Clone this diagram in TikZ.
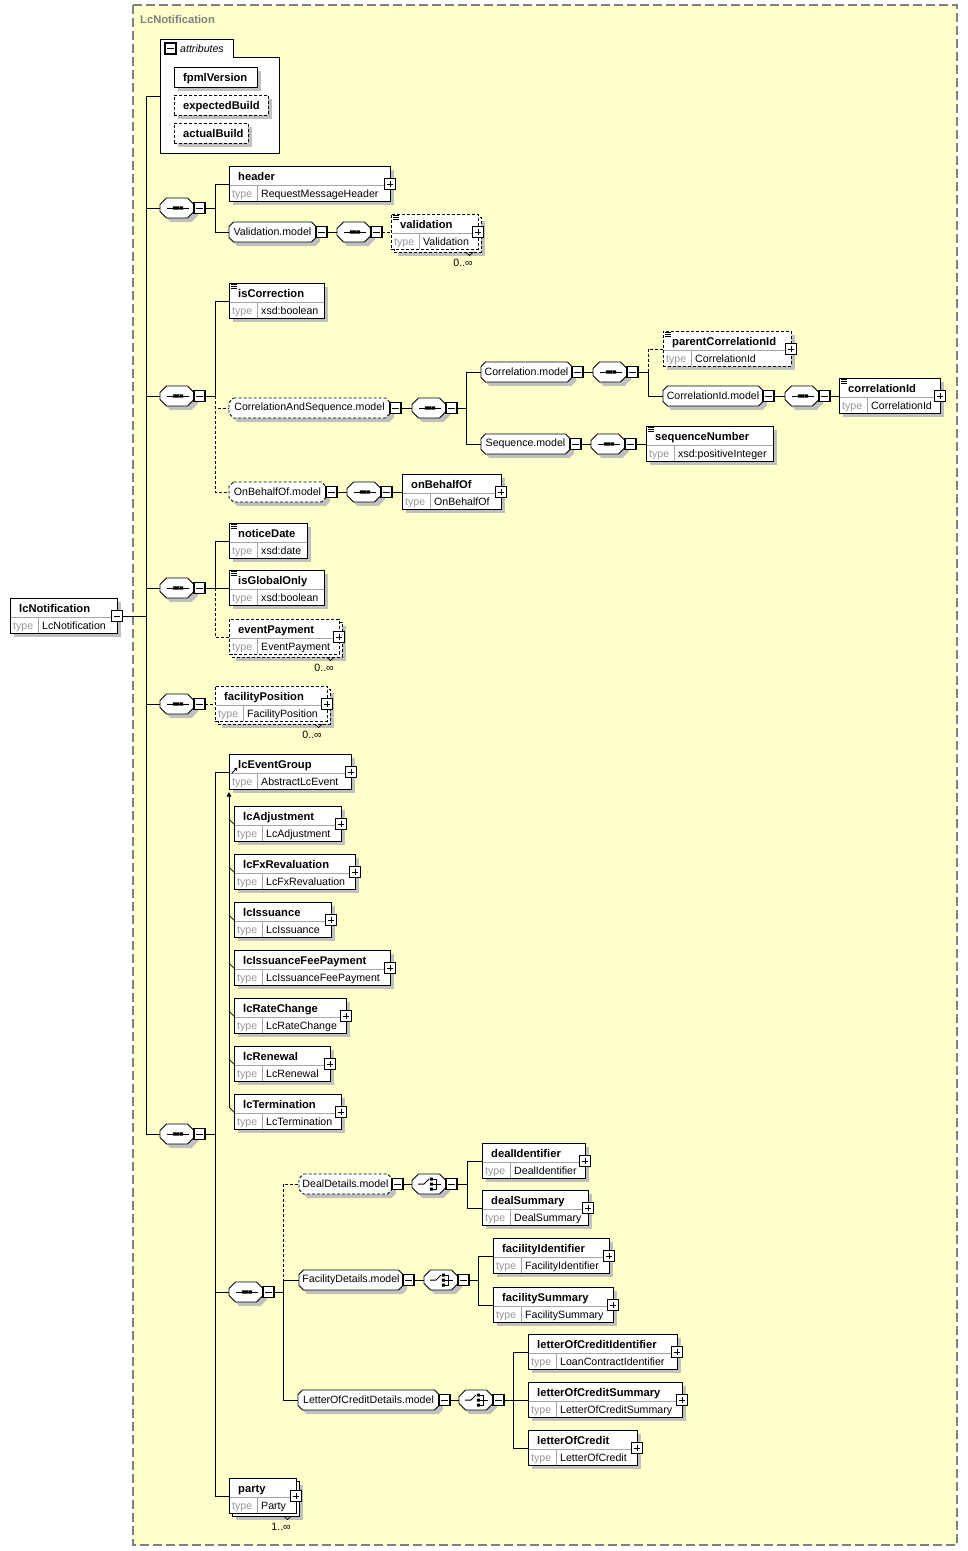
\documentclass[tikz,border=0pt]{standalone}
\usepackage{fontspec}
\setmainfont{Liberation Sans}
\usetikzlibrary{arrows.meta,shadows}
\definecolor{bgy}{RGB}{255,255,204}
\definecolor{shc}{RGB}{192,192,192}
\definecolor{fgray}{RGB}{128,128,128}
\definecolor{tgray}{RGB}{150,150,150}
\definecolor{dgray}{RGB}{165,165,165}
\newcommand{\rf}{\fontsize{10.6}{12}\selectfont}
\newcommand{\bft}{\fontsize{11.2}{13}\selectfont\bfseries}
\tikzset{
 conn/.style={line width=0.9pt},
 sh/.style={drop shadow={shadow xshift=4pt,shadow yshift=-4pt,fill=shc,draw=none,opacity=1}},
 ebox/.style={draw=black,fill=white,line width=0.9pt,minimum height=35pt,inner sep=0pt,outer sep=0pt},
 abox/.style={draw=black,fill=white,line width=0.9pt,minimum height=20pt,inner sep=0pt,outer sep=0pt,anchor=north west},
 dsh/.style={dash pattern=on 3pt off 2pt},
 divl/.style={draw=dgray,line width=0.8pt},
 ttl/.style={anchor=base west,inner sep=0pt,font=\bft},
 tlb/.style={anchor=base west,inner sep=0pt,font=\rf,text=tgray},
 tvl/.style={anchor=base west,inner sep=0pt,font=\rf},
 pmbox/.style={draw=black,fill=white,line width=1.1pt,minimum size=11pt,inner sep=0pt,outer sep=0pt},
}
% element box: [opts]{name}{x}{top}{w}{title}{type}
\newcommand{\elem}[7][]{%
 \node[ebox,#1,minimum width=#5pt,anchor=north west] (#2) at (#3,#4) {};
 \draw[divl] (#3+0.5,#4+19.5) -- (#3+#5-0.5,#4+19.5);
 \draw[divl] (#3+28,#4+19.5) -- (#3+28,#4+34.5);
 \node[ttl] (#2-t) at (#3+9,#4+14) {#6};
 \node[tlb] (#2-tl) at (#3+3,#4+31.5) {type};
 \node[tvl] (#2-tv) at (#3+32,#4+31.5) {#7};
 \coordinate (#2-in) at (#3,#4+18);
}
\newcommand{\backb}[5][]{%
 \node[ebox,#1,minimum width=#5pt,anchor=north west] (#2) at (#3+3,#4+3) {};
}
\newcommand{\plusb}[3]{%
 \node[pmbox] (#1) at (#2,#3) {};
 \draw[line width=0.9pt] (#2-3.3,#3) -- (#2+3.3,#3) (#2,#3-3.3) -- (#2,#3+3.3);
}
\newcommand{\minusb}[3]{%
 \node[pmbox] (#1) at (#2,#3) {};
 \draw[line width=0.9pt] (#2-3.3,#3) -- (#2+3.3,#3);
}
\newcommand{\simp}[2]{%
 \draw[line width=0.7pt] (#1+2,#2+1.2) -- ++(6,0) (#1+2,#2+3.2) -- ++(6,0) (#1+2,#2+5.2) -- ++(6,0);
}
% octagon: [style]{name}{x0}{cy}{w}{cut}{text}
\newcommand{\octo}[7][]{%
 \fill[shc] (#3+#6+4,#4-6) -- (#3+#5-#6+4,#4-6) -- (#3+#5+4,#4-6+#6) -- (#3+#5+4,#4+14-#6) -- (#3+#5-#6+4,#4+14) -- (#3+#6+4,#4+14) -- (#3+4,#4+14-#6) -- (#3+4,#4-6+#6) -- cycle;
 \draw[conn,fill=white,#1] (#3+#6,#4-10) -- (#3+#5-#6,#4-10) -- (#3+#5,#4-10+#6) -- (#3+#5,#4+10-#6) -- (#3+#5-#6,#4+10) -- (#3+#6,#4+10) -- (#3,#4+10-#6) -- (#3,#4-10+#6) -- cycle;
 \node[inner sep=0pt,outer sep=0pt,minimum width=#5pt,minimum height=20pt,anchor=west,font=\rf] (#2) at (#3,#4) {#7};
}
\newcommand{\grp}[6][]{%
 \octo[#1]{#2}{#3}{#4}{#5}{4.5}{#6}%
 \minusb{#2m}{#3+#5+5.5}{#4}%
}
\newcommand{\seqc}[3]{%
 \octo{#1}{#2}{#3}{34}{6.5}{}%
 \draw[line width=1pt] (#2+7,#3) -- (#2+29,#3);
 \fill (#2+12.8,#3-1.6) rectangle ++(3.2,3.2) (#2+16.4,#3-1.6) rectangle ++(3.2,3.2) (#2+20,#3-1.6) rectangle ++(3.2,3.2);
 \minusb{#1m}{#2+39.5}{#3}%
}
\newcommand{\chc}[3]{%
 \octo{#1}{#2}{#3}{34}{6.5}{}%
 \draw[line width=1pt] (#2+6,#3) -- (#2+12,#3) -- (#2+17,#3-5);
 \fill (#2+17.8,#3-6.5) rectangle ++(3,3) (#2+17.8,#3-1.5) rectangle ++(3,3) (#2+17.8,#3+3.5) rectangle ++(3,3);
 \draw[line width=1pt] (#2+21,#3-5) -- (#2+24.5,#3-5) -- (#2+24.5,#3+5) -- (#2+21,#3+5) (#2+21,#3) -- (#2+28.5,#3);
 \minusb{#1m}{#2+39.5}{#3}%
}
% multiplicity: {name}{x}{top}{w}{text}
\newcommand{\mult}[5]{%
 \node[anchor=base east,inner sep=0pt,font=\rf] (#1) at (#2+#4-5,#3+52) {#5};
 \draw[line width=0.7pt] (#2+#4-12.5,#3+38) -- (#2+#4-8.5,#3+41.5) -- (#2+#4-4.5,#3+38);
}
\begin{document}
\begin{tikzpicture}[x=1pt,y=-1pt]
\useasboundingbox (0,0) rectangle (968,1551);
\fill[bgy] (133,5) rectangle (957,1545);
\draw[fgray,line width=1.2pt,dash pattern=on 9pt off 4pt] (133,5) rectangle (957,1545);
\node[anchor=base west,inner sep=0pt,font=\bft,text=fgray] (lbl) at (140,23) {LcNotification};

% root
\elem[sh]{root}{10}{598}{107}{lcNotification}{LcNotification}
\minusb{rootm}{117}{616}
\coordinate (T) at (146,616);

% attributes
\draw[conn,fill=white] (160,39) -- (233,39) -- (233,57) -- (279,57) -- (279,153) -- (160,153) -- cycle;
\coordinate (attr-in) at (160,96);
\minusb{attrm}{170.5}{48.5}
\node[anchor=base west,inner sep=0pt,font=\rf\itshape] (attrlbl) at (180,52) {attributes};
\node[abox,sh,minimum width=83pt] (fpml) at (174,67) {};
\node[ttl] (fpmlt) at (183,81) {fpmlVersion};
\node[abox,sh,dsh,minimum width=94pt] (expb) at (174,95) {};
\node[ttl] (expbt) at (183,109) {expectedBuild};
\node[abox,sh,dsh,minimum width=74pt] (actb) at (174,123) {};
\node[ttl] (actbt) at (183,137) {actualBuild};

% sequence 1
\seqc{s1}{160}{208}
\elem[sh]{header}{229}{166}{161}{header}{RequestMessageHeader}\plusb{headerp}{390}{184}
\grp{valm}{229}{232}{87}{Validation.model}
\seqc{sv}{337}{232}
\backb[sh,dsh]{valb}{391}{214}{87}
\elem[dsh]{valid}{391}{214}{87}{validation}{Validation}\simp{391}{214}\plusb{validp}{478}{232}
\mult{validm}{391}{214}{87}{0..∞}

% sequence 2
\seqc{s2}{160}{396}
\elem[sh]{iscorr}{229}{283}{95}{isCorrection}{xsd:boolean}\simp{229}{283}
\grp[dsh]{casm}{229}{408}{161}{CorrelationAndSequence.model}
\seqc{scs}{412}{408}
\grp{corm}{481}{372}{91}{Correlation.model}
\seqc{sco}{593}{372}
\elem[sh,dsh]{pcid}{663}{331}{128}{parentCorrelationId}{CorrelationId}\simp{663}{331}\plusb{pcidp}{791}{349}
\grp{cidm}{663}{396}{100}{CorrelationId.model}
\seqc{scid}{785}{396}
\elem[sh]{cid}{839}{378}{101}{correlationId}{CorrelationId}\simp{839}{378}\plusb{cidp}{940}{396}
\grp{sqm}{481}{444}{89}{Sequence.model}
\seqc{ssq}{591}{444}
\elem[sh]{seqn}{646}{426}{127}{sequenceNumber}{xsd:positiveInteger}\simp{646}{426}
\grp[dsh]{obm}{229}{492}{97}{OnBehalfOf.model}
\seqc{sob}{347}{492}
\elem[sh]{obo}{402}{474}{99}{onBehalfOf}{OnBehalfOf}\plusb{obop}{501}{492}

% sequence 3
\seqc{s3}{160}{588}
\elem[sh]{ndate}{229}{523}{78}{noticeDate}{xsd:date}\simp{229}{523}
\elem[sh]{igo}{229}{570}{95}{isGlobalOnly}{xsd:boolean}\simp{229}{570}
\backb[sh,dsh]{evpb}{229}{619}{110}
\elem[dsh]{evp}{229}{619}{110}{eventPayment}{EventPayment}\plusb{evpp}{339}{637}
\mult{evpm}{229}{619}{110}{0..∞}

% sequence 4
\seqc{s4}{160}{704}
\backb[sh,dsh]{fposb}{215}{686}{112}
\elem[dsh]{fpos}{215}{686}{112}{facilityPosition}{FacilityPosition}\plusb{fposp}{327}{704}
\mult{fposm}{215}{686}{112}{0..∞}

% sequence 5
\seqc{s5}{160}{1134}
\elem[sh]{leg}{229}{754}{122}{lcEventGroup}{AbstractLcEvent}\plusb{legp}{351}{772}
\draw[line width=0.8pt,-{Triangle[width=3pt,length=3pt]}] (232,773) -- (237.5,767.5);
\elem[sh]{ladj}{234}{806}{107}{lcAdjustment}{LcAdjustment}\plusb{ladjp}{341}{824}
\elem[sh]{lfx}{234}{854}{121}{lcFxRevaluation}{LcFxRevaluation}\plusb{lfxp}{355}{872}
\elem[sh]{liss}{234}{902}{97}{lcIssuance}{LcIssuance}\plusb{lissp}{331}{920}
\elem[sh]{lifp}{234}{950}{156}{lcIssuanceFeePayment}{LcIssuanceFeePayment}\plusb{lifpp}{390}{968}
\elem[sh]{lrc}{234}{998}{112}{lcRateChange}{LcRateChange}\plusb{lrcp}{346}{1016}
\elem[sh]{lren}{234}{1046}{96}{lcRenewal}{LcRenewal}\plusb{lrenp}{330}{1064}
\elem[sh]{lterm}{234}{1094}{107}{lcTermination}{LcTermination}\plusb{ltermp}{341}{1112}

\seqc{s6}{229}{1292}
\grp[dsh]{ddm}{299}{1184}{93}{DealDetails.model}
\chc{cdd}{412}{1184}
\elem[sh]{did}{482}{1143}{103}{dealIdentifier}{DealIdentifier}\plusb{didp}{585}{1161}
\elem[sh]{dsum}{482}{1190}{106}{dealSummary}{DealSummary}\plusb{dsump}{588}{1208}
\grp{fdm}{299}{1280}{104}{FacilityDetails.model}
\chc{cfd}{424}{1280}
\elem[sh]{fid}{493}{1238}{116}{facilityIdentifier}{FacilityIdentifier}\plusb{fidp}{609}{1256}
\elem[sh]{fsum}{493}{1287}{120}{facilitySummary}{FacilitySummary}\plusb{fsump}{613}{1305}
\grp{lcdm}{298}{1400}{141}{LetterOfCreditDetails.model}
\chc{clc}{459}{1400}
\elem[sh]{locid}{528}{1334}{149}{letterOfCreditIdentifier}{LoanContractIdentifier}\plusb{locidp}{677}{1352}
\elem[sh]{locsum}{528}{1382}{154}{letterOfCreditSummary}{LetterOfCreditSummary}\plusb{locsump}{682}{1400}
\elem[sh]{loc}{528}{1430}{109}{letterOfCredit}{LetterOfCredit}\plusb{locp}{637}{1448}
\backb[sh]{partyb}{229}{1478}{67}
\elem{party}{229}{1478}{67}{party}{Party}\plusb{partyp}{296}{1496}
\mult{partym}{229}{1478}{67}{1..∞}

% ---------- connectors ----------
\draw[conn] (rootm.east) -- (T);
\draw[conn] (T) |- (attr-in);
\foreach \s in {s1,s2,s3,s4,s5} \draw[conn] (T) |- (\s.west);

\coordinate (j1) at (215,208);
\draw[conn] (s1m.east) -- (j1);
\draw[conn] (j1) |- (header-in);
\draw[conn] (j1) |- (valm.west);
\draw[conn] (valmm.east) -- (sv.west);
\draw[conn,dsh] (svm.east) -- (valid-in);

\coordinate (j2) at (215,396);
\draw[conn] (s2m.east) -- (j2);
\draw[conn] (j2) |- (iscorr-in);
\draw[conn,dsh] (j2) |- (casm.west);
\draw[conn,dsh] (j2) |- (obm.west);
\draw[conn] (casmm.east) -- (scs.west);
\coordinate (j3) at (466,408);
\draw[conn] (scsm.east) -- (j3);
\draw[conn] (j3) |- (corm.west);
\draw[conn] (j3) |- (sqm.west);
\draw[conn] (cormm.east) -- (sco.west);
\coordinate (j4) at (648,372);
\draw[conn] (scom.east) -- (j4);
\draw[conn,dsh] (j4) |- (pcid-in);
\draw[conn] (j4) |- (cidm.west);
\draw[conn] (cidmm.east) -- (scid.west);
\draw[conn] (scidm.east) -- (cid-in);
\draw[conn] (sqmm.east) -- (ssq.west);
\draw[conn] (ssqm.east) -- (seqn-in);
\draw[conn] (obmm.east) -- (sob.west);
\draw[conn] (sobm.east) -- (obo-in);

\coordinate (j5) at (215,588);
\draw[conn] (s3m.east) -- (j5);
\draw[conn] (j5) |- (ndate-in);
\draw[conn] (j5) -- (igo-in);
\draw[conn,dsh] (j5) |- (evp-in);

\draw[conn,dsh] (s4m.east) -- (fpos-in);

\coordinate (j6) at (215,1134);
\draw[conn] (s5m.east) -- (j6);
\draw[conn] (j6) |- (leg-in);
\draw[conn] (j6) |- (s6.west);
\draw[conn] (j6) |- (party-in);
\coordinate (subbot) at (229,1107);
\coordinate (subtop) at (229,792);
\draw[conn,-{Triangle[width=4.5pt,length=4.5pt]}] (subbot) -- (subtop);
\foreach \n/\t in {ladj/806,lfx/854,liss/902,lifp/950,lrc/998,lren/1046,lterm/1094}
  \draw[line width=0.7pt] (229,\t+13) -- (\n-in);

\coordinate (j7) at (283,1292);
\draw[conn] (s6m.east) -- (j7);
\draw[conn,dsh] (j7) |- (ddm.west);
\draw[conn] (j7) |- (fdm.west);
\draw[conn] (j7) |- (lcdm.west);
\draw[conn] (ddmm.east) -- (cdd.west);
\coordinate (j8) at (467,1184);
\draw[conn] (cddm.east) -- (j8);
\draw[conn] (j8) |- (did-in);
\draw[conn] (j8) |- (dsum-in);
\draw[conn] (fdmm.east) -- (cfd.west);
\coordinate (j9) at (478,1280);
\draw[conn] (cfdm.east) -- (j9);
\draw[conn] (j9) |- (fid-in);
\draw[conn] (j9) |- (fsum-in);
\draw[conn] (lcdmm.east) -- (clc.west);
\coordinate (j10) at (513,1400);
\draw[conn] (clcm.east) -- (j10);
\draw[conn] (j10) |- (locid-in);
\draw[conn] (j10) |- (locsum-in);
\draw[conn] (j10) |- (loc-in);
\end{tikzpicture}
\end{document}
